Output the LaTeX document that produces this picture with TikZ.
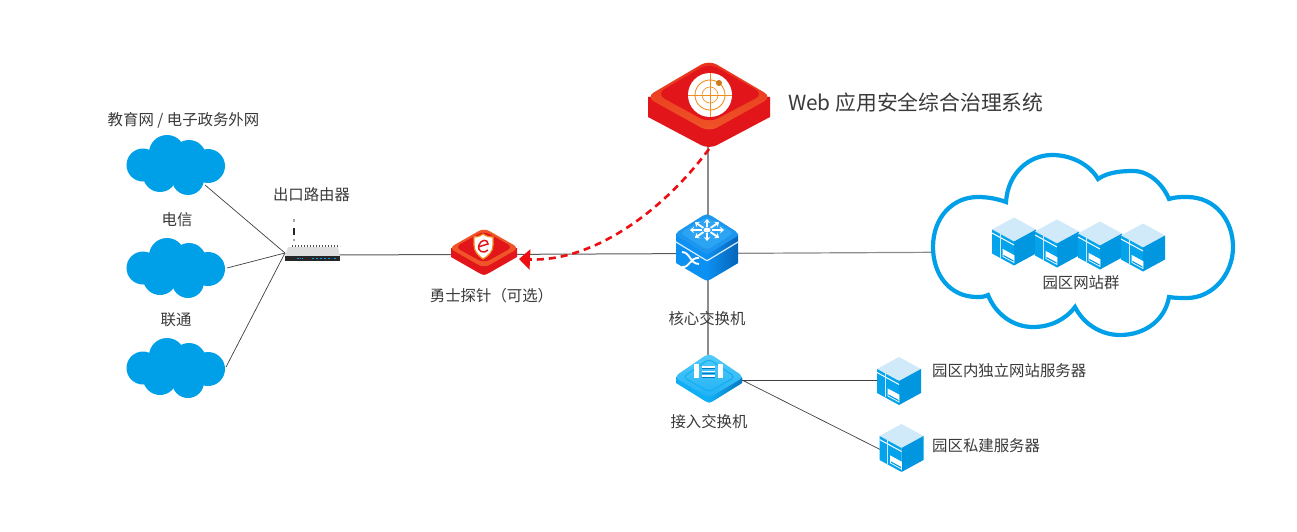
\documentclass[tikz,border=0pt]{standalone}
\usepackage{fontspec}
\setmainfont{Noto Sans CJK SC}
\usetikzlibrary{arrows.meta, positioning, calc}

\definecolor{cloudblue}{HTML}{00A0E9}
\definecolor{srvleft}{HTML}{04A3EC}
\definecolor{srvright}{HTML}{0097E0}
\definecolor{srvtop}{HTML}{D0EAF9}
\definecolor{redbody}{HTML}{E2161A}
\definecolor{redrim}{HTML}{EF5528}
\definecolor{redrimtop}{HTML}{E8301C}
\definecolor{radarline}{HTML}{F18D1E}
\definecolor{txtgrey}{HTML}{3A3A3A}
\definecolor{corebody}{HTML}{0C90F2}
\definecolor{coredark}{HTML}{0664B8}
\definecolor{coretop}{HTML}{1E96EE}
\definecolor{coreinner}{HTML}{2CA4F4}
\definecolor{accbody}{HTML}{10AEF4}
\definecolor{accdark}{HTML}{0A78BE}
\definecolor{acctop}{HTML}{1FB0F4}
\definecolor{acclight}{HTML}{55CCFA}

\tikzset{
	device/.style={inner sep=0pt, minimum size=0pt},
	lbl/.style={font=\fontsize{15.4}{18}\selectfont, text=txtgrey, inner sep=0pt},
	thinline/.style={draw=black!75, line width=0.7pt},
	midline/.style={draw=black!65, line width=1pt},
	greyline/.style={draw=black!45, line width=1.2pt},
	cloudicon/.pic={
		\fill[cloudblue] (-33,0) circle[radius=16.5];
		\fill[cloudblue] (-9,-12) circle[radius=18];
		\fill[cloudblue] (13,-8) circle[radius=17];
		\fill[cloudblue] (32,1) circle[radius=17];
		\fill[cloudblue] (-16,10) circle[radius=17];
		\fill[cloudblue] (12,14) circle[radius=16];
		\fill[cloudblue] (0,0) circle[radius=15];
	},
	servericon/.pic={
		\fill[srvtop] (0,-12) -- (22,0) -- (0,12) -- (-22,0) -- cycle;
		\fill[srvleft] (-22,0) -- (0,12) -- (0,36) -- (-22,24) -- cycle;
		\fill[srvright] (22,0) -- (0,12) -- (0,36) -- (22,24) -- cycle;
		\draw[white, line width=1pt] (-22,3.5) -- (0,15.5);
		\draw[srvtop, line width=1pt] (-14,4) -- (-14,28);
		\draw[white, line width=0.7pt, fill=srvright] (-11,20) -- (0,26) -- (0,33) -- (-11,27) -- cycle;
		\fill[white] (-11,20) -- (0,26) -- (0,31) -- (-11,25) -- cycle;
	},
	coreicon/.pic={
		\fill[corebody] (-31,20) -- (-3,2) .. controls (0,0) .. (3,2) -- (31,20) -- (31,49) -- (4,65) .. controls (0,67) .. (-4,65) -- (-31,49) -- cycle;
		\shade[left color=corebody, right color=coredark] (0,40) -- (31,22) -- (31,49) -- (4,65) .. controls (2,66) .. (0,66.5) -- cycle;
		\fill[rounded corners=5pt, coretop] (0,-1) -- (33,20) -- (0,41) -- (-33,20) -- cycle;
		\fill[rounded corners=4pt, coreinner] (0,3) -- (27,19) -- (0,36) -- (-27,19) -- cycle;
		\draw[white!85!corebody, line width=1.2pt] (-31,28) -- (-3,45) .. controls (0,47) .. (3,45) -- (31,28);
		\foreach \ang in {0,45,...,315}
			\draw[white, line width=1.9pt, -{Stealth[length=4pt,width=6.5pt]}] ($(0,16)+(\ang:5 and 3)$) -- ($(0,16)+(\ang:17 and 11)$);
		\fill[white] (0,16) ellipse (3.5 and 2.5);
		\draw[white, line width=1.9pt] (-25,38) .. controls (-17,38) and (-17,50) .. (-8,50);
		\draw[white, line width=1.9pt] (-25,53) .. controls (-17,54) and (-17,43) .. (-8,44);
	},
	accessicon/.pic={
		\fill[accbody] (-33,23) -- (33,23) -- (33,29) -- (4,47) .. controls (0,49) .. (-4,47) -- (-33,29) -- cycle;
		\shade[left color=accbody, right color=accdark] (0,43) -- (33,24) -- (33,29) -- (4,47) .. controls (2,48) .. (0,48.5) -- cycle;
		\shade[rounded corners=5pt, top color=acclight, bottom color=acctop] (0,-1) -- (35,23) -- (0,44) -- (-35,23) -- cycle;
		\draw[rounded corners=4pt, accbody, line width=1pt] (0,5) -- (26,23) -- (0,38) -- (-26,23) -- cycle;
		\fill[white] (-15,10) rectangle (-10,24);
		\fill[white] (9,10) rectangle (14,24);
		\foreach \ly in {13,17.5,22} {
			\draw[white, line width=1.6pt] (-7,\ly) -- (6,\ly);
			\draw[accdark, line width=0.8pt] (-7,\ly+1.5) -- (6,\ly+1.5);
		}
	},
	radaricon/.pic={
		\fill[redbody] (-61,36) -- (61,36) -- (61,56) -- (10,83) .. controls (3,87) and (-3,87) .. (-10,83) -- (-61,56) -- cycle;
		\shade[rounded corners=9pt, top color=redrimtop, bottom color=redrim] (0,-1) -- (63,36) -- (0,71) -- (-63,36) -- cycle;
		\fill[rounded corners=10pt, redbody] (0,2) -- (55,33) -- (0,62) -- (-53,33) -- cycle;
		\fill[white] (1,34) circle[radius=22];
		\draw[radarline, line width=0.9pt] (1,34) circle[radius=15];
		\draw[radarline, line width=0.6pt] (1,34) circle[radius=8];
		\draw[radarline, line width=0.9pt] (-21,34) -- (23,34);
		\draw[radarline, line width=0.9pt] (1,12) -- (1,56);
		\fill[radarline!85!black] (10,22) circle[radius=3];
	},
	probeicon/.pic={
		\fill[redbody] (-33,19) -- (33,19) -- (33,28) -- (5,44) .. controls (0,46.5) .. (-5,44) -- (-33,28) -- cycle;
		\fill[rounded corners=6pt, redrim] (0,-1) -- (35,19) -- (0,39) -- (-35,19) -- cycle;
		\fill[rounded corners=6pt, redbody] (0,2) -- (29,18) -- (0,34) -- (-29,18) -- cycle;
		\draw[radarline, fill=white, line width=1.2pt] (-1,5) .. controls (-5,8) and (-8,8) .. (-10,8) -- (-10,16) .. controls (-10,23) and (-5,27) .. (-1,30) .. controls (4,27) and (9,23) .. (9,16) -- (9,8) .. controls (7,8) and (3,8) .. (-1,5) -- cycle;
		\draw[redbody, line width=1.5pt] (-6,18) -- (4,15) .. controls (4,10) and (-3,10) .. (-5,16) .. controls (-7,23) and (0,25) .. (4,21);
	},
	routericon/.pic={
		\fill[black!13] (-24,-8) -- (26,-8) -- (28,1) -- (-27,1) -- cycle;
		\fill[black!85] (-27,1) rectangle (28,6);
		\draw[black!70, line width=1.3pt, dash pattern=on 1pt off 2pt] (-20,-9) -- (28,-9);
		\draw[cloudblue, line width=1.3pt, dash pattern=on 1.5pt off 1pt] (-15,3.5) -- (-9,3.5);
		\draw[cloudblue, line width=1.3pt, dash pattern=on 2pt off 2pt] (0,3.5) -- (18,3.5);
		\draw[cloudblue, line width=1.3pt] (22,3.5) -- (24,3.5);
		\draw[black!35, line width=1.5pt] (-18,-36) -- (-18,-33);
		\draw[black!85, line width=1.6pt] (-18,-27) -- (-18,-20);
		\draw[black!35, line width=1.5pt] (-18,-16) -- (-18,-14);
	},
}

\begin{document}
\begin{tikzpicture}[x=1pt, y=-1pt]
		\fill[white] (0,0) rectangle (1297,532);
		
		\node[device] (cloud1) at (176,165) {};
		\node[device] (cloud2) at (176,268) {};
		\node[device] (cloud3) at (176,368) {};
		\node[device] (router) at (312,255) {};
		\node[device] (probe) at (484,254.5) {};
		\node[device] (core) at (708,253.5) {};
		\node[device] (radar) at (708,100) {};
		\node[device] (access) at (708,380) {};
		\node[device] (sitecloud) at (1082,251.5) {};
		\node[device] (srvone) at (899,380) {};
		\node[device] (srvtwo) at (901,460) {};
		\coordinate (routerport) at (285,253);
		\coordinate (accessport) at (742,380);
		\coordinate (cloud1port) at (205,185);
		\coordinate (cloud2port) at (227,268);
		\coordinate (cloud3port) at (226,367);
		\coordinate (radarport) at (709,149);
		\coordinate (probetip) at (519,259);
		
		\draw [thinline] (cloud1port) -- (routerport);
		\draw [thinline] (cloud2port) -- (routerport);
		\draw [thinline] (cloud3port) -- (routerport);
		\draw [midline] (router) -- (probe);
		\draw [midline] (probe) -- (core);
		\draw [greyline] (radar) -- (core);
		\draw [greyline] (core) -- (sitecloud);
		\draw [greyline] (core) -- (access);
		\draw [thinline] (accessport) -- (srvone);
		\draw [thinline] (accessport) -- (srvtwo);
		
		% campus cloud
		\draw [cloudblue, line width=4.2pt, fill=white, line join=miter] (1006,202)
			.. controls (1008,172) and (1030,155) .. (1052,155)
			.. controls (1072,155) and (1090,165) .. (1098,179)
			.. controls (1108,172) and (1122,171) .. (1133,171)
			.. controls (1150,171) and (1163,185) .. (1169,199)
			.. controls (1175,197) and (1181,197) .. (1187,197)
			.. controls (1215,197) and (1233,220) .. (1233,247)
			.. controls (1233,275) and (1212,298) .. (1187,298)
			.. controls (1180,298) and (1175,298) .. (1169,297)
			.. controls (1165,320) and (1145,335) .. (1120,335)
			.. controls (1100,335) and (1083,323) .. (1075,307)
			.. controls (1065,320) and (1050,327) .. (1033,327)
			.. controls (1012,327) and (995,313) .. (988,295)
			.. controls (984,297) and (981,297) .. (977,297)
			.. controls (950,297) and (933,275) .. (933,247)
			.. controls (933,218) and (952,197) .. (978,197)
			.. controls (988,197) and (998,199) .. (1006,202) -- cycle;
		
		\pic at (cloud1) {cloudicon};
		\pic at (cloud2) {cloudicon};
		\pic at (cloud3) {cloudicon};
		\pic at (router) {routericon};
		\pic at (484,229) {probeicon};
		\pic at (707,214) {coreicon};
		\pic at (709,354) {accessicon};
		\pic at (709,61) {radaricon};
		\pic at (899,369) {servericon};
		\pic at (901.5,436) {servericon};
		\foreach \sx/\sy in {1014/229.5, 1057/231.5, 1100/233.5, 1143/235.5}
			\pic at (\sx,\sy) {servericon};
		
		\draw [redbody!60!red, line width=2.6pt, dash pattern=on 7pt off 5pt, -{Triangle[length=11pt,width=20pt]}] (radarport) .. controls (660,215) and (590,262) .. (probetip);
		
		\node[lbl] (cloudlbl0) at (183.5,120.5) {教育网 / 电子政务外网};
		\node[lbl] (cloudlbl1) at (177,220) {电信};
		\node[lbl] (cloudlbl2) at (176,319.5) {联通};
		\node[lbl] (routerlbl) at (311.5,195) {出口路由器};
		\node[lbl] (probelbl) at (491.5,296) {勇士探针（可选）};
		\node[lbl] (corelbl) at (707,318.5) {核心交换机};
		\node[lbl] (accesslbl) at (709,421.5) {接入交换机};
		\node[lbl] (sitelbl) at (1081,282.5) {园区网站群};
		\node[lbl, anchor=west] (srvonelbl) at (932,370.5) {园区内独立网站服务器};
		\node[lbl, anchor=west] (srvtwolbl) at (932,446) {园区私建服务器};
		\node[lbl, anchor=west, font=\fontsize{20.8}{25}\selectfont] (radarlbl) at (788,103) {Web 应用安全综合治理系统};
	\end{tikzpicture}
\end{document}
